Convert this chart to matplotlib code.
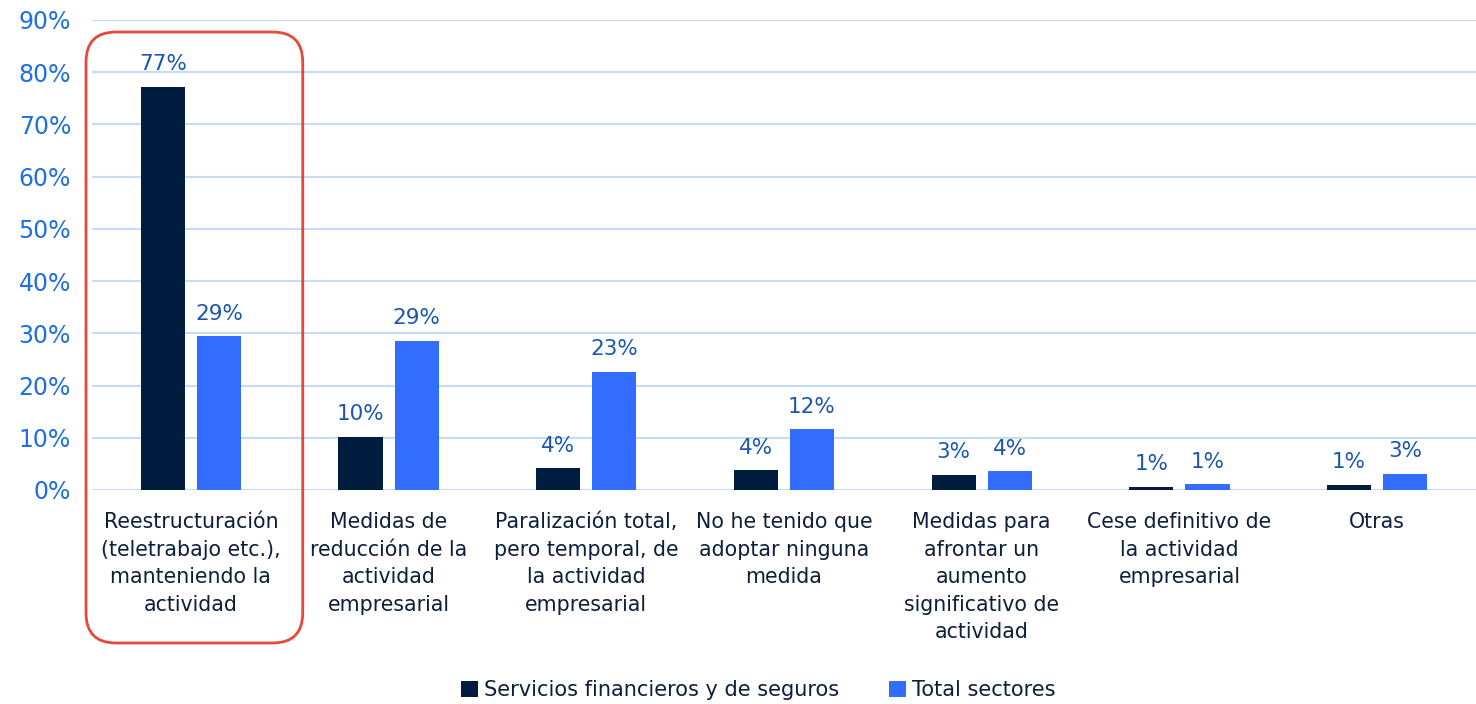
import matplotlib
matplotlib.use("Agg")
import matplotlib.pyplot as plt
from matplotlib.patches import FancyBboxPatch
import numpy as np

# Data
categories = [
    "Reestructuración\n(teletrabajo etc.),\nmanteniendo la\nactividad",
    "Medidas de\nreducción de la\nactividad\nempresarial",
    "Paralización total,\npero temporal, de\nla actividad\nempresarial",
    "No he tenido que\nadoptar ninguna\nmedida",
    "Medidas para\nafrontar un\naumento\nsignificativo de\nactividad",
    "Cese definitivo de\nla actividad\nempresarial",
    "Otras",
]
financieros = [77.2, 10.2, 4.2, 3.8, 2.9, 0.6, 1.0]
total = [29.4, 28.6, 22.6, 11.6, 3.6, 1.1, 3.1]
series_names = ["Servicios financieros y de seguros", "Total sectores"]

# Colors
c_dark = "#001d40"
c_blue = "#336dff"
c_tick = "#1f6fe0"
c_lab = "#1a56b0"
c_text = "#0d1f3c"
c_grid = "#c5dcf7"

plt.rcParams['font.family'] = ['DejaVu Sans']

fig = plt.figure(figsize=(14.76, 7.04), dpi=100)
ax = fig.add_axes([0.0623, 0.304, 0.9377, 0.6676])

x = np.arange(len(categories))
w = 0.223
off = 0.142
b1 = ax.bar(x - off, financieros, w, color=c_dark, label=series_names[0], zorder=3)
b2 = ax.bar(x + off, total, w, color=c_blue, label=series_names[1], zorder=3)

for bars, vals in [(b1, financieros), (b2, total)]:
    for r, v in zip(bars, vals):
        ax.annotate(f"{round(v)}%", (r.get_x() + r.get_width() / 2, v),
                    xytext=(0, 9), textcoords="offset points",
                    ha="center", va="bottom", fontsize=15.5, color=c_lab)

ax.set_xlim(-0.5, len(categories) - 0.5)
ax.set_ylim(0, 90)
ax.set_yticks(range(0, 91, 10))
ax.set_yticklabels([f"{t}%" for t in range(0, 91, 10)])
ax.tick_params(axis="y", length=0, pad=15, labelsize=17, labelcolor=c_tick)
ax.set_xticks(x)
ax.set_xticklabels(categories, fontsize=14.8, color=c_text, linespacing=1.47, va="top")
ax.tick_params(axis="x", length=0, pad=16)
ax.grid(axis="y", color=c_grid, linewidth=1.5, zorder=0)
for s in ax.spines.values():
    s.set_visible(False)

leg = fig.legend(loc="center", bbox_to_anchor=(0.514, 0.02), ncol=2, frameon=False,
                 fontsize=15, handlelength=0.8, handleheight=0.8, handletextpad=0.3,
                 columnspacing=2.4)
for t in leg.get_texts():
    t.set_color(c_text)

# red rounded highlight box around the first category
fig.canvas.draw()
(x0, y0) = ax.transData.transform((-0.53, -29.3))
(x1, y1) = ax.transData.transform((0.566, 87.7))
box = FancyBboxPatch((x0 + 30, y0 + 30), (x1 - x0) - 60, (y1 - y0) - 60,
                     boxstyle="round,pad=30", transform=None,
                     fill=False, edgecolor="#e8473a", linewidth=2, clip_on=False, zorder=5)
fig.patches.append(box)

fig.savefig("out.png", dpi=100)
